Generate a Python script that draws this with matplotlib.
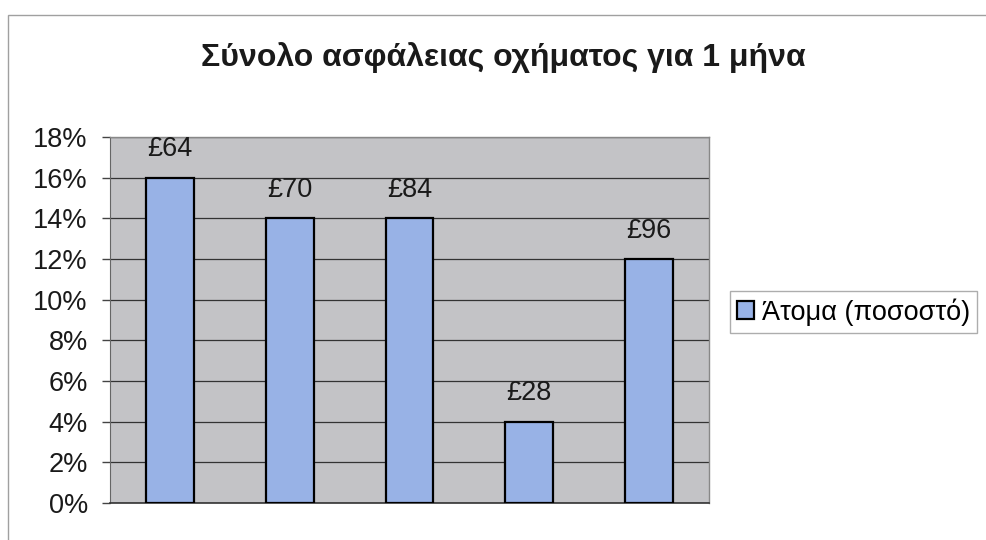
import numpy as np
import matplotlib.pyplot as plt
from matplotlib.patches import Rectangle

plt.rcParams['font.family'] = ['Liberation Sans', 'DejaVu Sans']

# data
categories = ["1", "2", "3", "4", "5"]
percent = [16, 14, 14, 4, 12]
price_labels = ["£64", "£70", "£84", "£28", "£96"]
yticks = [0, 2, 4, 6, 8, 10, 12, 14, 16, 18]

fig = plt.figure(figsize=(9.86, 5.40), dpi=100)
fig.patch.set_facecolor("white")

# outer chart frame (top and left edges visible)
fig.add_artist(Rectangle((8 / 986, -0.1), 1.2, (540 - 15) / 540 + 0.1,
                         transform=fig.transFigure, fill=False,
                         edgecolor="#a0a0a0", linewidth=1))

ax = fig.add_axes([110 / 986, 37 / 540, 599 / 986, 366 / 540])
ax.set_facecolor("#c3c3c6")

x = np.arange(len(categories))
bars = ax.bar(x, percent, width=0.4, color="#98b2e6", edgecolor="black",
              linewidth=1.6, zorder=3, label="Άτομα (ποσοστό)")

for b, lab in zip(bars, price_labels):
    ax.text(b.get_x() + b.get_width() / 2, b.get_height() + 0.75, lab,
            ha="center", va="bottom", fontsize=19.5, color="#1a1a1a")

ax.set_xlim(-0.5, len(categories) - 0.5)
ax.set_ylim(0, 18)
ax.set_yticks(yticks)
ax.set_yticklabels([f"{t}%" for t in yticks], fontsize=19.5, color="#1a1a1a")
ax.set_xticks([])
ax.yaxis.grid(True, color="#333333", linewidth=0.9, zorder=1)
ax.tick_params(axis="y", length=6, width=1, color="#444444", pad=10)

for s in ["top", "right"]:
    ax.spines[s].set_color("#888888")
    ax.spines[s].set_linewidth(1)
ax.spines["left"].set_color("#666666")
ax.spines["bottom"].set_color("#333333")
ax.spines["bottom"].set_linewidth(1.2)

fig.text(0.510, 1 - 58 / 540, "Σύνολο ασφάλειας οχήματος για 1 μήνα",
         ha="center", va="center", fontsize=23, fontweight="bold",
         color="#1a1a1a")

leg = fig.legend(handles=[bars], labels=["Άτομα (ποσοστό)"],
                 loc="center left", bbox_to_anchor=(730 / 986, 1 - 312 / 540),
                 fontsize=19.5, frameon=True, fancybox=False,
                 handlelength=0.65, handleheight=0.65, handletextpad=0.3,
                 borderpad=0.25, borderaxespad=0)
leg.get_frame().set_edgecolor("#999999")
leg.get_frame().set_linewidth(1)

fig.savefig("out.png", dpi=100)
